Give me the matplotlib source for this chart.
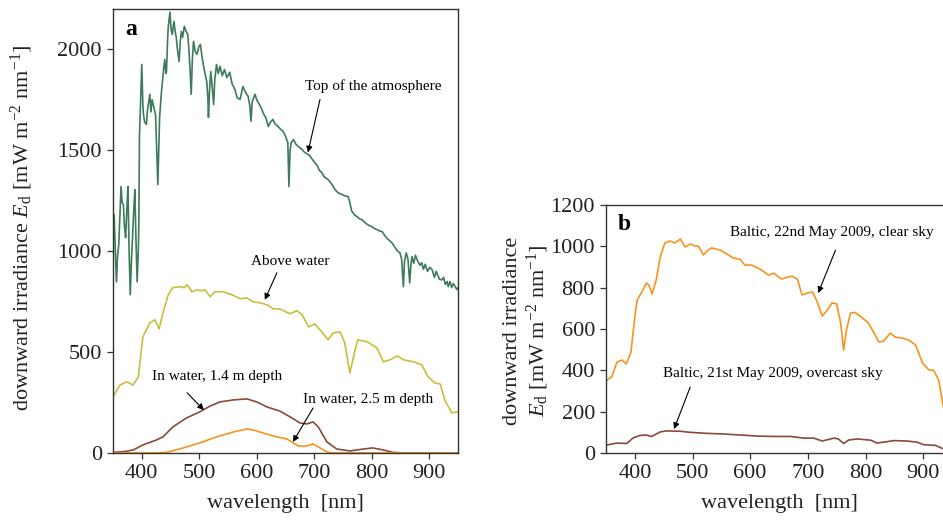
import matplotlib
matplotlib.use("Agg")
import matplotlib.pyplot as plt
import numpy as np

plt.rcParams['font.family'] = ['Liberation Serif', 'DejaVu Serif']
plt.rcParams['mathtext.fontset'] = 'custom'
plt.rcParams['mathtext.rm'] = 'Liberation Serif'
plt.rcParams['mathtext.it'] = 'Liberation Serif:italic'

# ── panel a: top of the atmosphere ───────────────────────────────────────
toa_wl = [350, 352, 354, 356, 358, 360, 362, 364, 366, 368, 370, 372, 374, 376, 378, 380,
          382, 384, 386, 388, 390, 392, 394, 395, 396, 398, 400, 402, 403, 405, 408, 410,
          412, 414, 416, 418, 420, 422, 424, 426, 428, 430, 431, 434, 436, 438, 440, 442,
          443, 445, 446, 448, 449, 451, 453, 455, 456, 458, 460, 462, 465, 467, 469, 471,
          474, 477, 480, 482, 484, 486, 488, 490, 493, 496, 499, 502, 505, 507, 510, 513,
          515, 516, 518, 520, 522, 525, 527, 530, 533, 536, 540, 544, 548, 553, 557, 562,
          566, 571, 574, 576, 580, 585, 588, 590, 592, 597, 600, 604, 609, 612, 616, 620,
          624, 628, 632, 637, 641, 646, 650, 652, 654, 656, 658, 660, 664, 668, 672, 676,
          679, 683, 686, 690, 694, 698, 701, 705, 709, 713, 717, 721, 724, 727, 731, 735,
          738, 741, 745, 749, 753, 756, 759, 762, 765, 767, 770, 775, 779, 783, 787, 791,
          795, 800, 805, 810, 814, 818, 822, 826, 830, 835, 840, 845, 849, 852, 855, 857,
          860, 863, 866, 868, 870, 873, 876, 880, 884, 887, 890, 893, 897, 901, 905, 909,
          912, 915, 918, 922, 925, 928, 931, 933, 936, 939, 942, 945, 948, 950]
toa_val = [1067, 1181, 1000, 848, 980, 1032, 1180, 1320, 1240, 1231, 1120, 1067, 1200, 1320, 1000, 784,
           950, 1067, 1200, 1305, 1050, 848, 1000, 1146, 1563, 1750, 1925, 1720, 1677, 1640, 1628, 1700,
           1740, 1777, 1690, 1750, 1727, 1700, 1677, 1500, 1330, 1560, 1660, 1780, 1841, 1900, 1950, 1880,
           1890, 2050, 2109, 2160, 2184, 2100, 2074, 2120, 2139, 2090, 2060, 2000, 1940, 2040, 2089, 2060,
           2114, 2090, 2074, 2000, 1900, 1777, 1950, 2040, 1990, 1975, 2010, 2025, 1960, 1925, 1880, 1841,
           1760, 1663, 1800, 1890, 1830, 1727, 1850, 1925, 1880, 1916, 1870, 1900, 1860, 1886, 1830, 1801,
           1760, 1752, 1790, 1816, 1790, 1767, 1720, 1643, 1740, 1777, 1750, 1730, 1702, 1680, 1660, 1618,
           1640, 1653, 1630, 1618, 1605, 1593, 1570, 1553, 1540, 1320, 1500, 1538, 1553, 1530, 1520, 1510,
           1504, 1490, 1485, 1479, 1465, 1450, 1439, 1425, 1400, 1390, 1370, 1360, 1355, 1345, 1330, 1310,
           1300, 1290, 1285, 1280, 1275, 1272, 1270, 1240, 1200, 1191, 1180, 1170, 1160, 1156, 1145, 1135,
           1128, 1122, 1112, 1105, 1100, 1097, 1080, 1065, 1055, 1042, 1020, 1000, 992, 960, 824, 950,
           992, 960, 843, 930, 973, 940, 980, 950, 930, 943, 910, 935, 900, 920, 908, 870,
           900, 880, 860, 858, 870, 835, 850, 824, 850, 820, 840, 824, 810, 820]

# above water
above_wl = [350, 362, 374, 385, 394, 402, 414, 423, 430, 437, 446, 454, 466, 474, 479, 487,
            496, 504, 510, 519, 527, 541, 557, 571, 582, 594, 606, 618, 629, 640, 658, 670,
            679, 690, 701, 713, 724, 733, 745, 753, 762, 771, 776, 792, 809, 820, 832, 844,
            855, 872, 887, 898, 910, 919, 927, 939, 950]
above_val = [278, 337, 352, 337, 377, 576, 645, 660, 615, 695, 784, 819, 824, 819, 834, 799,
             809, 804, 809, 774, 799, 799, 784, 764, 769, 749, 744, 734, 714, 714, 690, 705,
             685, 625, 640, 600, 561, 595, 600, 546, 397, 511, 561, 551, 521, 452, 462, 481,
             462, 452, 437, 377, 347, 342, 263, 199, 204]

# in water, 1.4 m
w14_wl = [350, 370, 385, 402, 426, 437, 454, 478, 501, 519, 536, 559, 583, 600, 618, 640,
          658, 675, 687, 698, 707, 722, 739, 762, 786, 802, 820, 837, 860, 950]
w14_val = [3, 7, 15, 40, 65, 80, 129, 174, 204, 233, 253, 263, 268, 253, 228, 208,
           179, 149, 144, 154, 129, 55, 20, 10, 20, 25, 15, 3, 0, 0]

# in water, 2.5 m
w25_wl = [350, 400, 430, 443, 472, 501, 530, 559, 583, 594, 611, 634, 652, 672, 687, 698,
          710, 724, 740, 950]
w25_val = [0, 0, 1, 3, 25, 50, 80, 104, 119, 114, 99, 80, 70, 35, 35, 45,
           25, 3, 0, 0]

# ── panel b: Baltic ──────────────────────────────────────────────────────
clear_wl = [350, 352, 360, 369, 378, 385, 393, 400, 404, 412, 420, 424, 430, 437, 444, 452,
            461, 469, 479, 487, 496, 505, 510, 519, 527, 533, 548, 560, 571, 582, 591, 603,
            617, 632, 641, 652, 655, 664, 673, 682, 690, 699, 708, 715, 725, 734, 742, 750,
            757, 762, 767, 774, 782, 795, 805, 814, 823, 831, 843, 852, 864, 875, 887, 899,
            910, 918, 927, 935, 950]
clear_val = [350, 353, 368, 440, 450, 431, 484, 658, 740, 779, 822, 814, 769, 837, 948, 1016,
             1026, 1016, 1035, 997, 1011, 1001, 1001, 958, 982, 992, 982, 962, 943, 938, 909, 909,
             890, 861, 870, 846, 842, 850, 856, 840, 765, 774, 779, 740, 663, 692, 726, 721,
             629, 498, 595, 677, 680, 653, 629, 585, 537, 541, 580, 560, 556, 546, 522, 435,
             402, 400, 353, 223, 150]

over_wl = [350, 352, 369, 386, 397, 409, 420, 429, 444, 455, 479, 496, 525, 554, 583, 612,
           641, 670, 693, 710, 725, 745, 753, 762, 771, 786, 809, 820, 838, 849, 872, 890,
           901, 921, 935, 950]
over_val = [38, 39, 48, 46, 73, 85, 87, 80, 102, 107, 105, 100, 95, 92, 87, 82,
            80, 80, 72, 72, 58, 72, 68, 46, 63, 68, 62, 48, 55, 60, 58, 52,
            40, 37, 20, 12]

c_green = "#3e7a5c"
c_yellow = "#c8bf3e"
c_brown = "#8a4a3a"
c_orange = "#f7941e"
c_axis = "#333333"

fig = plt.figure(figsize=(9.43, 5.24), dpi=100)
ax1 = fig.add_axes([113 / 943, 71 / 524, 345 / 943, 444 / 524])
ax2 = fig.add_axes([606 / 943, 71 / 524, 346 / 943, 248 / 524])

arrow = dict(arrowstyle="-|>", color="black", lw=0.8, mutation_scale=9,
             shrinkA=0, shrinkB=0)
fs_tick = 16
fs_note = 11

for ax in (ax1, ax2):
    for s in ax.spines.values():
        s.set_color(c_axis)
        s.set_linewidth(1.0)
    ax.tick_params(direction="out", length=4, width=0.9, color=c_axis,
                   labelsize=fs_tick, labelcolor="#222222", pad=4)
    ax.set_xlim(350, 950)
    ax.set_xticks([400, 500, 600, 700, 800, 900])
    ax.set_xlabel("wavelength  [nm]", fontsize=fs_tick, color="#222222", labelpad=8)

# panel a
ax1.plot(toa_wl, toa_val, color=c_green, lw=1.2)
ax1.plot(above_wl, above_val, color=c_yellow, lw=1.2)
ax1.plot(w14_wl, w14_val, color=c_brown, lw=1.2)
ax1.plot(w25_wl, w25_val, color=c_orange, lw=1.2)
ax1.set_ylim(0, 2200)
ax1.set_yticks([0, 500, 1000, 1500, 2000])
ax1.text(0.052, 0.953, "a", transform=ax1.transAxes, fontsize=17,
         fontweight="bold", ha="center", va="center")

ax1.text(802, 1816, "Top of the atmosphere", fontsize=fs_note, ha="center", va="center")
ax1.annotate("", xy=(689, 1489), xytext=(710, 1752), arrowprops=arrow)
ax1.text(658, 948, "Above water", fontsize=fs_note, ha="center", va="center")
ax1.annotate("", xy=(614, 759), xytext=(635, 893), arrowprops=arrow)
ax1.text(531, 377, "In water, 1.4 m depth", fontsize=fs_note, ha="center", va="center")
ax1.annotate("", xy=(508, 213), xytext=(479, 298), arrowprops=arrow)
ax1.text(793, 263, "In water, 2.5 m depth", fontsize=fs_note, ha="center", va="center")
ax1.annotate("", xy=(663, 55), xytext=(698, 223), arrowprops=arrow)

# panel b
ax2.plot(clear_wl, clear_val, color=c_orange, lw=1.2)
ax2.plot(over_wl, over_val, color=c_brown, lw=1.2)
ax2.set_ylim(0, 1200)
ax2.set_yticks([0, 200, 400, 600, 800, 1000, 1200])
ax2.text(0.052, 0.92, "b", transform=ax2.transAxes, fontsize=17,
         fontweight="bold", ha="center", va="center")

ax2.text(565, 1069, "Baltic, 22nd May 2009, clear sky", fontsize=fs_note,
         ha="left", va="center", clip_on=False)
ax2.annotate("", xy=(718, 774), xytext=(748, 982), arrowprops=arrow)
ax2.text(640, 387, "Baltic, 21st May 2009, overcast sky", fontsize=fs_note,
         ha="center", va="center")
ax2.annotate("", xy=(468, 116), xytext=(496, 319), arrowprops=arrow)

# y labels
fig.text(22 / 943, 1 - 228 / 524,
         r"downward irradiance $E_\mathrm{d}$ [mW m$^{-2}$ nm$^{-1}$]",
         rotation=90, ha="center", va="center", fontsize=fs_tick, color="#222222")
fig.text(527 / 943, 1 - 331 / 524,
         "downward irradiance\n" + r"$E_\mathrm{d}$ [mW m$^{-2}$ nm$^{-1}$]",
         rotation=90, ha="center", va="center", multialignment="center",
         fontsize=fs_tick, color="#222222", linespacing=1.1)

fig.savefig("out.png", dpi=100)
